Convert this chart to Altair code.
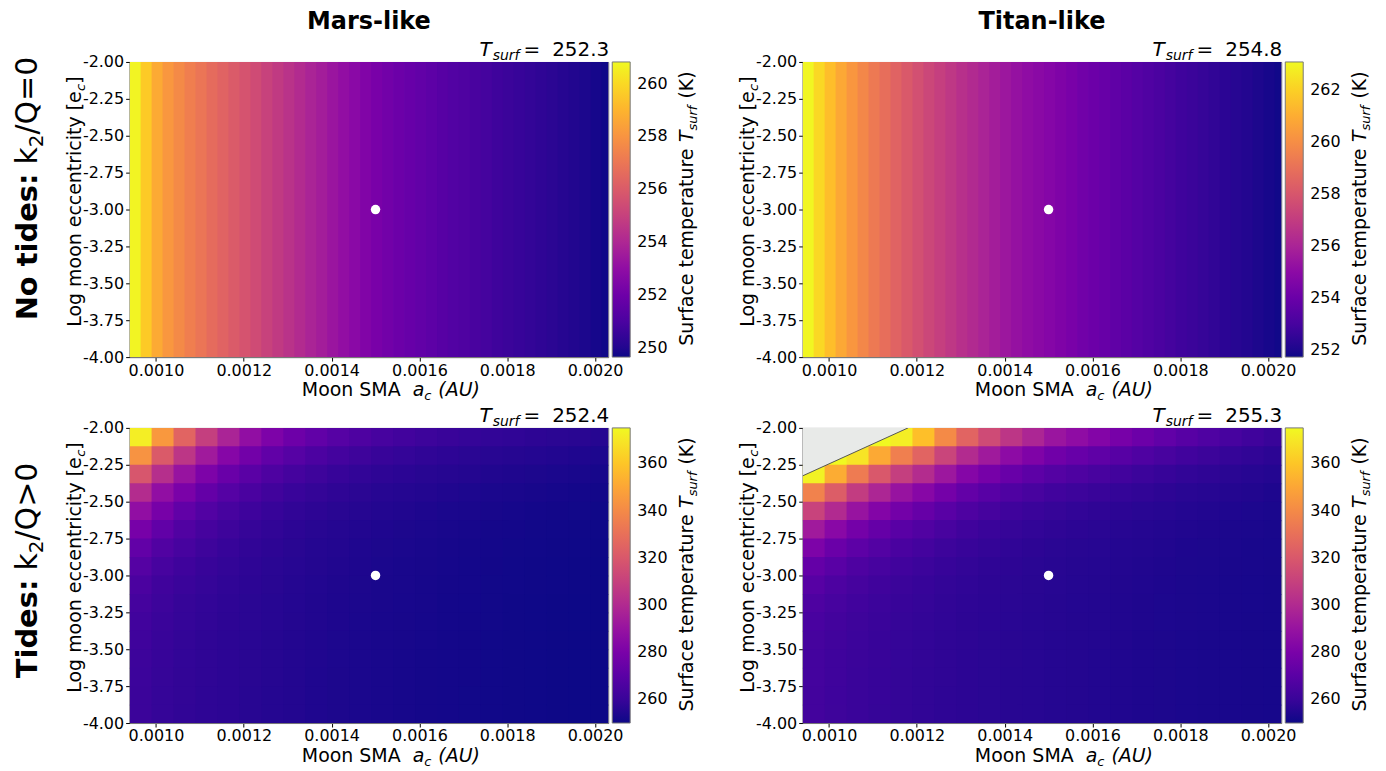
import altair as alt
import pandas as pd

# ---------------- data ----------------
# fine SMA grid for the tide-free panels (values only depend on SMA)
X_FINE = [0.0009525, 0.0009775, 0.0010025, 0.0010275, 0.0010525, 0.0010775, 0.0011025, 0.0011275,
          0.0011525, 0.0011775, 0.0012025, 0.0012275, 0.0012525, 0.0012775, 0.0013025, 0.0013275,
          0.0013525, 0.0013775, 0.0014025, 0.0014275, 0.0014525, 0.0014775, 0.0015025, 0.0015275,
          0.0015525, 0.0015775, 0.0016025, 0.0016275, 0.0016525, 0.0016775, 0.0017025, 0.0017275,
          0.0017525, 0.0017775, 0.0018025, 0.0018275, 0.0018525, 0.0018775, 0.0019025, 0.0019275,
          0.0019525, 0.0019775, 0.0020025, 0.0020275]
CELL_DX_FINE = 0.000025

MARS_NOTIDE = [260.7, 259.6, 258.7, 258.1, 257.7, 257.3, 256.95, 256.6, 256.3, 256.0, 255.7,
               255.4, 255.05, 254.75, 254.45, 254.15, 253.85, 253.6, 253.3, 253.05, 252.8, 252.55,
               252.3, 252.1, 251.95, 251.8, 251.65, 251.5, 251.35, 251.2, 251.1, 250.95, 250.85,
               250.7, 250.6, 250.5, 250.4, 250.3, 250.2, 250.1, 250.0, 249.9, 249.8, 249.7]
TITAN_NOTIDE = [263.0, 262.2, 261.5, 260.85, 260.3, 259.8, 259.3, 258.9, 258.5, 258.1, 257.75,
                257.4, 257.1, 256.8, 256.5, 256.25, 256.0, 255.75, 255.5, 255.3, 255.1, 254.95,
                254.8, 254.6, 254.4, 254.2, 254.05, 253.9, 253.7, 253.55, 253.4, 253.25, 253.1,
                252.95, 252.8, 252.7, 252.55, 252.45, 252.3, 252.2, 252.1, 252.0, 251.9, 251.8]

# coarser (SMA x eccentricity) grid for the tidal panels
X_CENTERS = [0.000965, 0.001015, 0.001065, 0.001115, 0.001165, 0.001215, 0.001265, 0.001315,
             0.001365, 0.001415, 0.001465, 0.001515, 0.001565, 0.001615, 0.001665, 0.001715,
             0.001765, 0.001815, 0.001865, 0.001915, 0.001965, 0.002015]
Y_CENTERS = [-2.0625, -2.1875, -2.3125, -2.4375, -2.5625, -2.6875, -2.8125, -2.9375,
             -3.0625, -3.1875, -3.3125, -3.4375, -3.5625, -3.6875, -3.8125, -3.9375]
CELL_DX = 0.00005
CELL_DY = 0.125

X_TICKS = [0.0010, 0.0012, 0.0014, 0.0016, 0.0018, 0.0020]
Y_TICKS = [-4.0, -3.75, -3.5, -3.25, -3.0, -2.75, -2.5, -2.25, -2.0]

# Tides: one list per SMA column, values from the top row (e=-2) downwards
MARS_TIDES = [
    [372, 343, 319, 301, 288, 279, 272.4, 268.2, 265.3, 263.5, 262.3, 261.6, 261.1, 260.8, 260.6, 260.5],
    [345, 321, 302, 288, 279, 272, 267, 264, 262, 261, 260.2, 259.7, 259.4, 259.2, 259.0, 258.9],
    [325, 305, 290, 280, 272, 267, 264, 261.6, 260.2, 259.3, 258.8, 258.4, 258.2, 258.0, 258.0, 257.9],
    [309, 293, 281, 273, 267.4, 263.7, 261.3, 259.7, 258.8, 258.1, 257.7, 257.4, 257.3, 257.2, 257.1, 257.1],
    [297, 284, 274.7, 268.3, 264.1, 261.3, 259.5, 258.3, 257.6, 257.1, 256.8, 256.6, 256.6, 256.5, 256.4, 256.4],
    [288, 277.3, 269.9, 264.8, 261.5, 259.3, 257.9, 257.0, 256.5, 256.1, 255.9, 255.7, 255.6, 255.6, 255.5, 255.5],
    [281, 272.2, 266.2, 262.1, 259.5, 257.8, 256.7, 256.0, 255.6, 255.3, 255.1, 255.0, 254.9, 254.9, 254.8, 254.8],
    [276, 268.5, 263.5, 260.1, 257.9, 256.5, 255.6, 255.1, 254.7, 254.5, 254.3, 254.2, 254.2, 254.1, 254.1, 254.1],
    [272, 265.6, 261.3, 258.5, 256.7, 255.5, 254.8, 254.3, 254.0, 253.8, 253.7, 253.6, 253.6, 253.5, 253.5, 253.5],
    [268.5, 263.1, 259.5, 257.2, 255.6, 254.7, 254.1, 253.7, 253.4, 253.3, 253.2, 253.1, 253.1, 253.0, 253.0, 253.0],
    [266, 261.3, 258.2, 256.2, 254.9, 254.0, 253.5, 253.2, 253.0, 252.8, 252.7, 252.7, 252.6, 252.6, 252.6, 252.6],
    [264, 259.8, 257.1, 255.3, 254.2, 253.5, 253.0, 252.7, 252.5, 252.4, 252.3, 252.3, 252.2, 252.2, 252.2, 252.2],
    [262.5, 258.7, 256.3, 254.7, 253.7, 253.0, 252.6, 252.3, 252.2, 252.1, 252.0, 252.0, 251.9, 251.9, 251.9, 251.9],
    [261, 257.6, 255.5, 254.1, 253.2, 252.6, 252.2, 252.0, 251.9, 251.8, 251.7, 251.7, 251.6, 251.6, 251.6, 251.6],
    [260, 256.9, 254.9, 253.6, 252.7, 252.2, 251.9, 251.7, 251.5, 251.4, 251.4, 251.3, 251.3, 251.3, 251.3, 251.3],
    [259, 256.1, 254.3, 253.1, 252.4, 251.9, 251.6, 251.4, 251.3, 251.2, 251.1, 251.1, 251.1, 251.1, 251.0, 251.0],
    [258.2, 255.5, 253.8, 252.7, 252.0, 251.6, 251.3, 251.1, 251.0, 250.9, 250.9, 250.8, 250.8, 250.8, 250.8, 250.8],
    [257.5, 255.0, 253.4, 252.4, 251.7, 251.3, 251.0, 250.8, 250.7, 250.6, 250.6, 250.6, 250.6, 250.5, 250.5, 250.5],
    [256.8, 254.5, 253.0, 252.0, 251.4, 251.0, 250.8, 250.6, 250.5, 250.4, 250.4, 250.4, 250.4, 250.4, 250.4, 250.4],
    [256.2, 254.0, 252.6, 251.7, 251.1, 250.8, 250.5, 250.4, 250.3, 250.2, 250.2, 250.2, 250.2, 250.2, 250.2, 250.2],
    [255.6, 253.5, 252.2, 251.4, 250.9, 250.5, 250.3, 250.2, 250.1, 250.0, 250.0, 250.0, 250.0, 250.0, 250.0, 250.0],
    [255.0, 253.1, 251.9, 251.1, 250.6, 250.3, 250.1, 250.0, 249.9, 249.8, 249.8, 249.8, 249.8, 249.8, 249.8, 249.8],
]
TITAN_TIDES = [
    [None, None, 373, 337, 311, 293, 281, 273, 269, 266, 264.6, 263.7, 263.2, 263.0, 262.8, 262.7],
    [None, 393, 352, 322, 300, 285, 275, 269.4, 265.9, 263.9, 262.8, 262.1, 261.8, 261.6, 261.5, 261.4],
    [414, 369, 334, 308, 290, 278, 270.7, 266.2, 263.6, 262.2, 261.3, 260.8, 260.6, 260.4, 260.3, 260.3],
    [392, 351, 320, 298, 283, 273.4, 267.5, 264.0, 262.0, 260.8, 260.2, 259.8, 259.6, 259.4, 259.4, 259.3],
    [372, 336, 309, 290, 277.6, 269.7, 265.0, 262.2, 260.6, 259.7, 259.2, 258.9, 258.7, 258.6, 258.6, 258.5],
    [358, 325, 301, 284.5, 273.8, 267.1, 263.2, 260.9, 259.5, 258.8, 258.3, 258.1, 258.0, 257.9, 257.8, 257.8],
    [340, 311.6, 291.5, 278.0, 269.4, 264.2, 261.2, 259.4, 258.4, 257.8, 257.5, 257.3, 257.2, 257.2, 257.1, 257.1],
    [325, 300.6, 283.8, 272.8, 266.1, 262.0, 259.6, 258.3, 257.5, 257.1, 256.8, 256.7, 256.6, 256.6, 256.5, 256.5],
    [314, 292.8, 278.5, 269.3, 263.7, 260.4, 258.5, 257.4, 256.8, 256.5, 256.3, 256.1, 256.1, 256.0, 256.0, 256.0],
    [305, 286.4, 274.2, 266.5, 261.8, 259.1, 257.6, 256.7, 256.2, 255.9, 255.7, 255.6, 255.6, 255.5, 255.5, 255.5],
    [298, 281.6, 270.9, 264.4, 260.4, 258.1, 256.8, 256.1, 255.6, 255.4, 255.3, 255.2, 255.2, 255.1, 255.1, 255.1],
    [291, 276.8, 267.8, 262.3, 259.1, 257.2, 256.1, 255.5, 255.2, 255.0, 254.9, 254.8, 254.8, 254.7, 254.7, 254.7],
    [287, 274.1, 266.0, 261.1, 258.1, 256.5, 255.5, 255.0, 254.7, 254.5, 254.4, 254.4, 254.3, 254.3, 254.3, 254.3],
    [283, 271.4, 264.2, 259.9, 257.4, 255.9, 255.1, 254.6, 254.3, 254.2, 254.1, 254.1, 254.0, 254.0, 254.0, 254.0],
    [279, 268.8, 262.5, 258.7, 256.5, 255.2, 254.5, 254.1, 253.9, 253.8, 253.7, 253.7, 253.6, 253.6, 253.6, 253.6],
    [275.5, 266.5, 260.9, 257.7, 255.8, 254.7, 254.1, 253.7, 253.6, 253.4, 253.4, 253.3, 253.3, 253.3, 253.3, 253.3],
    [272, 264.2, 259.5, 256.7, 255.1, 254.2, 253.7, 253.4, 253.2, 253.1, 253.1, 253.0, 253.0, 253.0, 253.0, 253.0],
    [269, 262.2, 258.2, 255.8, 254.5, 253.7, 253.3, 253.0, 252.9, 252.8, 252.8, 252.7, 252.7, 252.7, 252.7, 252.7],
    [266.5, 260.7, 257.2, 255.2, 254.0, 253.4, 253.0, 252.8, 252.7, 252.6, 252.6, 252.5, 252.5, 252.5, 252.5, 252.5],
    [264, 259.0, 256.1, 254.4, 253.5, 252.9, 252.6, 252.4, 252.3, 252.3, 252.2, 252.2, 252.2, 252.2, 252.2, 252.2],
    [262, 257.8, 255.3, 253.9, 253.1, 252.6, 252.3, 252.2, 252.1, 252.1, 252.0, 252.0, 252.0, 252.0, 252.0, 252.0],
    [260, 256.5, 254.5, 253.3, 252.7, 252.3, 252.1, 252.0, 251.9, 251.9, 251.8, 251.8, 251.8, 251.8, 251.8, 251.8],
]

# runaway (invalid) region boundary in the Titan tidal panel
GRAY_X = [0.00094, 0.00118]
GRAY_Y = [-2.325, -2.0]

REF_POINT = {"x0": [0.0015], "y0": [-3.0]}
T_REF = {"mars_no": "252.3", "titan_no": "254.8", "mars_t": "252.4", "titan_t": "255.3"}

# ---------------- helpers ----------------
W, H = 480, 296
XDOM = [0.00094, 0.00203]
YDOM = [-4.0, -2.0]
FONT = "DejaVu Sans"
TS = 19  # axis / colourbar title size
NB = "\u00a0"

REG = {' ': 651, NB: 651, '(': 799, ')': 799, '.': 651, '/': 690, '=': 1716, '>': 1716,
       ':': 690, '-': 739, 'A': 1401, 'K': 1343, 'L': 1141, 'M': 1767, 'Q': 1612, 'S': 1300,
       'T': 1251, 'U': 1499, '[': 799, ']': 799, 'a': 1255, 'c': 1126, 'e': 1260, 'f': 721,
       'g': 1300, 'i': 569, 'k': 1186, 'l': 569, 'm': 1995, 'n': 1298, 'o': 1253, 'p': 1300,
       'r': 842, 's': 1067, 't': 803, 'u': 1298, 'y': 1212}
BOLD = {' ': 713, NB: 713, 'N': 1706, 'o': 1407, 't': 979, 'i': 702, 'd': 1466,
        'e': 1389, 's': 1219, ':': 819, 'T': 1399}


def tw(s, fs, bold=False):
    table = BOLD if bold else REG
    tot = 0
    for ch in s:
        if ch.isdigit():
            tot += 1425 if bold else 1303
        else:
            tot += table.get(ch, 1250)
    return tot / 2048.0 * fs


def tmark(text, x, y, fs, style="normal", weight="normal", angle=0):
    return alt.Chart(pd.DataFrame({"t": [text]})).mark_text(
        align="left", baseline="alphabetic", font=FONT, fontSize=fs,
        fontStyle=style, fontWeight=weight, angle=angle, color="black"
    ).encode(text="t:N", x=alt.value(x), y=alt.value(y))


# segment: (text, font size, style, weight, shift across the baseline, gap before)
def seg_width(segs):
    return sum(g + tw(t, fs, w == "bold") for t, fs, s, w, d, g in segs)


def hcompose(segs, x_start, y_base):
    out, x = [], x_start
    for t, fs, style, weight, dy, gap in segs:
        x += gap
        out.append(tmark(t, x, y_base + dy, fs, style, weight, 0))
        x += tw(t, fs, weight == "bold")
    return out


def vcompose(segs, x_base, y_start):
    out, y = [], y_start
    for t, fs, style, weight, dx, gap in segs:
        y -= gap
        out.append(tmark(t, x_base + dx, y, fs, style, weight, 270))
        y -= tw(t, fs, weight == "bold")
    return out


def table_1d(values):
    rows = []
    for c, v in zip(X_FINE, values):
        rows.append({"x0": c - CELL_DX_FINE / 2, "x1": c + CELL_DX_FINE / 2 * 1.15,
                     "y0": -4.0, "y1": -2.0, "T": v})
    return pd.DataFrame(rows)


def table_2d(cols):
    rows = []
    for c, col in zip(X_CENTERS, cols):
        for yc, v in zip(Y_CENTERS, col):
            if v is None:
                continue
            rows.append({"x0": c - CELL_DX / 2, "x1": c + CELL_DX / 2 * 1.12,
                         "y0": yc - CELL_DY / 2 * 1.12, "y1": yc + CELL_DY / 2, "T": v})
    return pd.DataFrame(rows)


XAX = alt.Axis(values=X_TICKS, format=".4f", title=None, labelFontSize=16, labelColor="black",
               tickColor="black", tickSize=4, domainColor="#777", grid=False, labelFlush=False,
               labelPadding=1, labelFont=FONT)
YAX = alt.Axis(values=Y_TICKS, title=None, labelFontSize=16, labelColor="black",
               tickColor="black", tickSize=4, domainColor="#777", grid=False, labelFlush=False,
               labelPadding=2, labelFont=FONT,
               labelExpr="(datum.value < 0 ? '-' : '') + format(abs(datum.value), '.2f')")


def xenc(field="x0"):
    return alt.X(field + ":Q", scale=alt.Scale(domain=XDOM, nice=False, zero=False), axis=XAX)


def yenc(field="y0"):
    return alt.Y(field + ":Q", scale=alt.Scale(domain=YDOM, nice=False, zero=False), axis=YAX)


def panel(df, domain, lvals, tval, col_title=None, row_label=None, row_cy=0, gray=False):
    rect = alt.Chart(df).mark_rect(clip=True, strokeWidth=0).encode(
        x=xenc(), x2="x1:Q", y=yenc(), y2="y1:Q",
        color=alt.Color("T:Q", scale=alt.Scale(scheme="plasma", domain=domain, clamp=True),
                        legend=alt.Legend(title=None, orient="right", direction="vertical",
                                          gradientLength=H, gradientThickness=18, offset=4,
                                          padding=0, labelFontSize=16, labelColor="black",
                                          labelFont=FONT, values=lvals, labelOffset=7,
                                          gradientStrokeColor="#777", gradientStrokeWidth=1)),
    )
    layers = [rect]
    if gray:
        gdf = pd.DataFrame({"x0": GRAY_X, "y0": GRAY_Y, "y1": [-2.0, -2.0]})
        layers.append(alt.Chart(gdf).mark_area(color="#e8eae8", clip=True).encode(
            x=xenc(), y=yenc(), y2="y1:Q"))
        layers.append(alt.Chart(gdf).mark_line(color="#555555", strokeWidth=1, clip=True).encode(
            x=xenc(), y=yenc()))
    layers.append(alt.Chart(pd.DataFrame(REF_POINT)).mark_circle(
        size=90, color="white", opacity=1).encode(x=xenc(), y=yenc()))

    # panel title  T_surf =  value
    segs = [("T", 20, "italic", "normal", 0, 0), ("surf", 14, "italic", "normal", 4, 1),
            ("=", 20, "normal", "normal", 0, 4), (tval, 20, "normal", "normal", 0, 12)]
    layers += hcompose(segs, W + 1 - seg_width(segs), -6)

    # x axis title
    segs = [("Moon" + NB + "SMA", TS, "normal", "normal", 0, 0), ("a", TS, "italic", "normal", 0, 12),
            ("c", 13, "italic", "normal", 4, 0), ("(AU)", TS, "italic", "normal", 0, 7)]
    layers += hcompose(segs, 262 - seg_width(segs) / 2, H + 39)

    # y axis title
    segs = [("Log" + NB + "moon" + NB + "eccentricity" + NB + "[e", TS, "normal", "normal", 0, 0),
            ("c", 13, "italic", "normal", 4, 0), ("]", TS, "normal", "normal", 0, 0)]
    layers += vcompose(segs, -49, 140 + seg_width(segs) / 2)

    # colourbar title
    segs = [("Surface" + NB + "temperature", TS, "normal", "normal", 0, 0),
            ("T", TS, "italic", "normal", 0, 6), ("surf", 13, "italic", "normal", 4, 0),
            ("(K)", TS, "normal", "normal", 0, 7)]
    layers += vcompose(segs, 565, 147 + seg_width(segs) / 2)

    if col_title:
        layers.append(alt.Chart(pd.DataFrame({"t": [col_title]})).mark_text(
            align="center", baseline="alphabetic", font=FONT, fontSize=24, fontWeight="bold",
            color="black").encode(text="t:N", x=alt.value(W / 2), y=alt.value(-33)))
    if row_label:
        segs = row_label
        layers += vcompose(segs, -93, row_cy + seg_width(segs) / 2)

    return alt.layer(*layers).properties(width=W, height=H)


ROW1 = [("No" + NB + "tides:", 29, "normal", "bold", 0, 0), ("k", 30, "normal", "normal", 0, 9),
        ("2", 20, "normal", "normal", 6, 0), ("/Q=0", 30, "normal", "normal", 0, 0)]
ROW2 = [("Tides:", 29, "normal", "bold", 0, 0), ("k", 30, "normal", "normal", 0, 9),
        ("2", 20, "normal", "normal", 6, 0), ("/Q>0", 30, "normal", "normal", 0, 0)]

p11 = panel(table_1d(MARS_NOTIDE), [249.65, 260.82], [250, 252, 254, 256, 258, 260],
            T_REF["mars_no"], col_title="Mars-like", row_label=ROW1, row_cy=127)
p12 = panel(table_1d(TITAN_NOTIDE), [251.73, 263.07], [252, 254, 256, 258, 260, 262],
            T_REF["titan_no"], col_title="Titan-like")
p21 = panel(table_2d(MARS_TIDES), [250, 375], [260, 280, 300, 320, 340, 360],
            T_REF["mars_t"], row_label=ROW2, row_cy=143)
p22 = panel(table_2d(TITAN_TIDES), [250, 375], [260, 280, 300, 320, 340, 360],
            T_REF["titan_t"], gray=True)

chart = alt.concat(p11, p12, p21, p22, columns=2, spacing={"row": 71, "column": 195},
                   bounds="flush").resolve_scale(
    color="independent").resolve_legend(color="independent").configure(
    font=FONT, background="white", padding={"left": 4, "top": 0, "right": 4, "bottom": 4}
).configure_view(stroke="#777", strokeWidth=1)

chart.save("out.html", embed_options={"renderer": "svg", "actions": False})
